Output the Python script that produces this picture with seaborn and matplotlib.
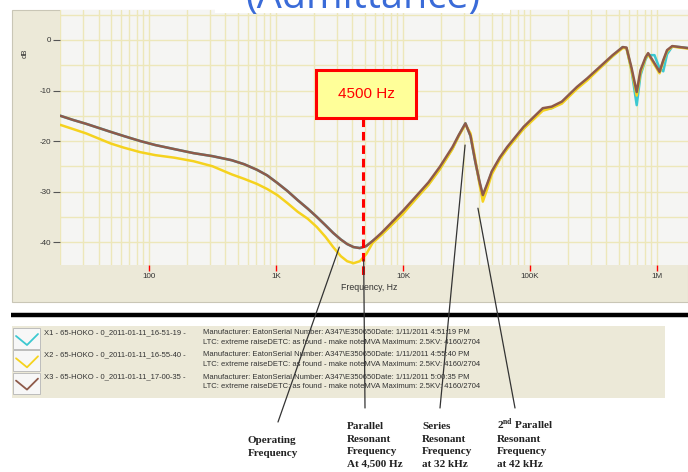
import numpy as np
import pandas as pd
import seaborn as sns
import matplotlib.pyplot as plt
from matplotlib.patches import Rectangle, ConnectionPatch
from matplotlib.ticker import LogLocator, NullFormatter, FixedLocator

# sweep frequencies (Hz) shared by the three runs
freq_hz = [20, 25, 32, 40, 50, 63, 85, 112, 158, 224, 316, 447, 562, 708, 851, 1023,
           1230, 1479, 1778, 2089, 2455, 2818, 3236, 3631, 4074, 4571, 5129, 5754, 6761,
           7943, 10000, 12600, 15850, 19500, 24500, 27500, 31000, 34000, 37000, 40000,
           42500, 46000, 50000, 58000, 66000, 89000, 126000, 148000, 178000, 234000,
           282000, 355000, 447000, 537000, 575000, 630000, 692000, 741000, 813000,
           851000, 955000, 1047000, 1120000, 1200000, 1318000, 1514000, 1758000]

# admittance magnitude, dB
x1_db = [-15.0, -15.8, -16.6, -17.4, -18.2, -19.0, -20.0, -20.8, -21.6, -22.4, -23.0, -23.8,
         -24.6, -25.7, -26.8, -28.3, -29.9, -31.7, -33.4, -35.0, -36.7, -38.2, -39.5, -40.4,
         -41.0, -41.2, -40.8, -39.8, -38.5, -36.8, -34.2,
         -31.4, -28.6, -25.5, -21.5, -18.9, -16.5, -19.0, -24.0, -28.2, -30.9, -28.7, -26.2,
         -23.4, -21.5, -17.5, -13.8, -13.5, -12.4, -9.5, -7.8, -5.5, -3.2, -1.4, -1.6, -6.0,
         -12.9, -7.0, -3.8, -3.0, -3.0, -5.6, -6.2, -2.8, -1.3, -1.4, -1.6]
x2_db = [-16.8, -17.6, -18.5, -19.5, -20.5, -21.3, -22.2, -22.8, -23.3, -24.0, -25.0, -26.6,
         -27.5, -28.5, -29.5, -30.7, -32.3, -34.0, -35.4, -37.0, -39.0, -41.0, -42.8, -43.8,
         -44.2, -43.8, -42.4, -40.2, -38.6, -36.9, -34.4,
         -31.5, -28.7, -25.6, -21.6, -19.0, -16.7, -18.5, -23.5, -28.5, -32.0, -29.5, -26.6,
         -23.6, -21.6, -17.6, -14.0, -13.5, -12.6, -9.7, -8.0, -5.6, -3.2, -1.6, -1.6, -6.0,
         -11.0, -6.5, -3.6, -2.8, -4.9, -6.6, -4.2, -2.2, -1.3, -1.5, -1.7]
x3_db = [-15.0, -15.8, -16.6, -17.4, -18.2, -19.0, -20.0, -20.8, -21.6, -22.4, -23.0, -23.8,
         -24.6, -25.7, -26.8, -28.3, -29.9, -31.7, -33.4, -35.0, -36.7, -38.2, -39.5, -40.4,
         -41.0, -41.2, -40.8, -39.8, -38.2, -36.4, -33.8,
         -31.0, -28.2, -25.1, -21.2, -18.8, -16.5, -19.0, -24.0, -28.0, -30.7, -28.5, -26.0,
         -23.2, -21.2, -17.2, -13.5, -13.2, -12.2, -9.3, -7.6, -5.3, -3.0, -1.4, -1.5, -5.5,
         -10.3, -6.0, -3.4, -2.6, -4.6, -6.3, -4.0, -2.0, -1.2, -1.4, -1.6]

runs = ['X1', 'X2', 'X3']
run_colors = ['#3CC8D0', '#F5D21E', '#8E5A4A']
run_names = ['X1 - 65-HOKO - 0_2011-01-11_16-51-19 -',
             'X2 - 65-HOKO - 0_2011-01-11_16-55-40 -',
             'X3 - 65-HOKO - 0_2011-01-11_17-00-35 -']
run_times = ['4:51:19 PM', '4:55:40 PM', '5:00:35 PM']

marker_label = '4500 Hz'
marker_hz = 4800

callouts = ['Operating\nFrequency',
            'Parallel\nResonant\nFrequency\nAt 4,500 Hz',
            'Series\nResonant\nFrequency\nat 32 kHz',
            r'2$^{\mathbf{nd}}$ Parallel' + '\nResonant\nFrequency\nat 42 kHz']
callout_hz = [3150, 4900, 30800, 38900]
callout_db = [-41.0, -43.5, -20.8, -33.3]

df = pd.DataFrame({'freq': freq_hz * 3,
                   'db': x1_db + x2_db + x3_db,
                   'run': [r for r in runs for _ in freq_hz]})

sns.set_style('white')
plt.rcParams['font.family'] = ['Liberation Sans', 'DejaVu Sans']
plt.rcParams['axes.unicode_minus'] = False
plt.rcParams['mathtext.fontset'] = 'custom'
plt.rcParams['mathtext.bf'] = 'Liberation Serif:bold'
plt.rcParams['mathtext.rm'] = 'Liberation Serif:bold'

W, H = 688, 472
fig = plt.figure(figsize=(W / 100, H / 100), dpi=100)
fig.patch.set_facecolor('white')

# background panels (pixel coords)
bg = fig.add_axes([0, 0, 1, 1], zorder=-1)
bg.set_xlim(0, W)
bg.set_ylim(H, 0)
bg.axis('off')
bg.add_patch(Rectangle((12, 10), W - 12, 292, fc='#ECE9D8', ec='#C9C6B6', lw=0.8))
bg.plot([11, W], [314.5, 314.5], color='black', lw=3.2, solid_capstyle='butt')
bg.add_patch(Rectangle((12, 326), 653, 72, fc='#ECE9D8', ec='none'))
bg.text(25, 53, 'dB', rotation=90, fontsize=5.5, ha='center', va='center', color='#333333')
bg.text(369, 288, 'Frequency, Hz', fontsize=6.3, ha='center', va='center', color='#333333')

# legend rows
for i, (name, t, col) in enumerate(zip(run_names, run_times, run_colors)):
    top = 328 + 22.3 * i
    bg.add_patch(Rectangle((13, top), 27, 21, fc='#F7F7F7', ec='#B5B5B5', lw=0.6))
    bg.plot([16, 27, 38], [top + 8, top + 17, top + 6], color=col, lw=1.3)
    bg.text(44, top + 1, name, fontsize=5.5, va='top', color='#333333')
    bg.text(203, top + 1, 'Manufacturer: EatonSerial Number: A347\\E350650Date: 1/11/2011 ' + t,
            fontsize=5.5, va='top', color='#333333')
    bg.text(203, top + 10.5, 'LTC: extreme raiseDETC: as found - make noteMVA Maximum: 2.5KV: 4160/2704',
            fontsize=5.5, va='top', color='#333333')

# main chart
ax = fig.add_axes([60 / W, 1 - 265 / H, 628 / W, 255 / H], zorder=1)
ax.set_facecolor('#F5F5F3')
sns.lineplot(data=df, x='freq', y='db', hue='run', hue_order=runs,
             palette=dict(zip(runs, run_colors)), lw=1.8, legend=False,
             estimator=None, sort=False, ax=ax)
ax.set_xscale('log')
ax.set_xlim(19.9, 1.754e6)
ax.set_ylim(-44.55, 5.94)
ax.set_xlabel('')
ax.set_ylabel('')

ax.set_xticks([1e2, 1e3, 1e4, 1e5, 1e6], ['100', '1K', '10K', '100K', '1M'])
ax.xaxis.set_minor_locator(LogLocator(base=10, subs=np.arange(2, 10)))
ax.xaxis.set_minor_formatter(NullFormatter())
ax.set_yticks([0, -10, -20, -30, -40], ['0', '-10', '-20', '-30', '-40'])
ax.yaxis.set_minor_locator(FixedLocator([5, -5, -15, -25, -35]))
ax.tick_params(bottom=True, left=True)
ax.tick_params(axis='x', which='major', length=4, color='red', width=1,
               labelsize=5.8, pad=2, labelcolor='#333333')
ax.tick_params(axis='y', which='major', length=5, color='#555555', width=0.8,
               labelsize=5.8, pad=1.5, labelcolor='#333333')
ax.tick_params(which='minor', length=0)
ax.grid(True, which='both', color='#EDE7BA', lw=1.0)
for s in ax.spines.values():
    s.set_visible(False)

# 4500 Hz marker box and dashed line
ax.add_patch(Rectangle((2080, -15.4), 12650 - 2080, 9.5, fc='#FFFF99', ec='red',
                       lw=2.2, clip_on=False, zorder=10))
ax.text(5130, -10.65, marker_label, ha='center', va='center', color='red',
        fontsize=11, zorder=11)
ax.plot([marker_hz, marker_hz], [-15.4, -46.5], color='red', lw=2.2,
        dashes=(2.8, 1.6), clip_on=False, zorder=9)

# overlay for title and callouts
ov = fig.add_axes([0, 0, 1, 1], zorder=5)
ov.set_xlim(0, W)
ov.set_ylim(H, 0)
ov.axis('off')
ov.add_patch(Rectangle((215, 0), 295, 13, fc='white', ec='none', zorder=0))
ov.text(245, 8, '(Admittance)', fontsize=28.5, color='#3A6BD8', family='Open Sans',
        va='baseline', ha='left', zorder=3)

label_x = [248, 347, 422, 497]
label_base = [443, 429, 429, 429]
line_end = [(278, 422), (365, 408), (440, 408), (515, 408)]
for txt, fx, fy, lx, lb, end in zip(callouts, callout_hz, callout_db, label_x, label_base, line_end):
    con = ConnectionPatch(xyA=(fx, fy), coordsA=ax.transData, xyB=end, coordsB=ov.transData,
                          color='#333333', lw=0.9)
    ov.add_artist(con)
    # one text per line so the superscript does not push the spacing
    for k, part in enumerate(txt.split('\n')):
        ov.text(lx, lb + 12.7 * k, part, family='Liberation Serif', fontweight='bold',
                fontsize=8, va='baseline', ha='left', color='#222222')

fig.savefig('out.png', dpi=100)
